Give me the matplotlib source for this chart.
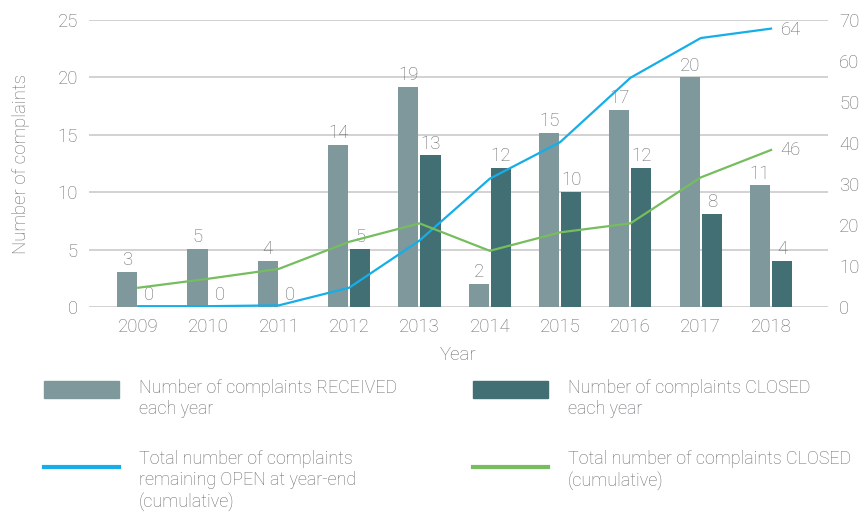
import numpy as np
import matplotlib
matplotlib.use("Agg")
import matplotlib.pyplot as plt
from matplotlib.patches import Rectangle
from matplotlib.lines import Line2D

years = ["2009", "2010", "2011", "2012", "2013", "2014", "2015", "2016", "2017", "2018"]
received = [3.05, 5.05, 4.0, 14.1, 19.2, 2.0, 15.2, 17.2, 20.0, 10.6]
received_labels = [3, 5, 4, 14, 19, 2, 15, 17, 20, 11]
closed = [0, 0, 0, 5.05, 13.2, 12.1, 10.0, 12.1, 8.1, 4.0]
closed_labels = [0, 0, 0, 5, 13, 12, 10, 12, 8, 4]
open_cum = [0.2, 0.2, 0.4, 4.7, 16.2, 31.3, 40.2, 55.9, 65.6, 67.9]
closed_cum = [4.7, 6.9, 9.3, 15.9, 20.4, 13.7, 18.2, 20.4, 31.6, 38.3]
end_labels = [64, 46]

C_REC = "#7f989c"
C_CLO = "#426f74"
C_OPEN = "#15aee8"
C_CCUM = "#75bd5e"
C_TEXT = "#6a6b6e"
C_GRID = "#d2d2d2"

plt.rcParams["font.family"] = ["Roboto", "DejaVu Sans"]
plt.rcParams["font.weight"] = "light"
plt.rcParams["axes.labelweight"] = "light"
FS = 13.4
FS_LEG = 12.9

W, H = 861, 512
fig = plt.figure(figsize=(W / 100, H / 100), dpi=100)
ax = fig.add_axes([89 / W, 1 - 307 / H, (828 - 89) / W, (307 - 20) / H])
ax2 = ax.twinx()

x = np.arange(len(years))
bw = 0.285
off = 0.157

b1 = ax.bar(x - off, received, bw, color=C_REC, zorder=2)
b2 = ax.bar(x + off, closed, bw, color=C_CLO, zorder=2)

for rect, lab in zip(b1, received_labels):
    ax.annotate(str(lab), (rect.get_x() + rect.get_width() / 2, rect.get_height()),
                xytext=(0, 2), textcoords="offset points", ha="center", va="bottom",
                fontsize=FS, color=C_TEXT)
for rect, lab in zip(b2, closed_labels):
    ax.annotate(str(lab), (rect.get_x() + rect.get_width() / 2, rect.get_height()),
                xytext=(0, 2), textcoords="offset points", ha="center", va="bottom",
                fontsize=FS, color=C_TEXT)

ax2.plot(x, open_cum, color=C_OPEN, lw=1.6, zorder=3)
ax2.plot(x, closed_cum, color=C_CCUM, lw=1.6, zorder=3)
ax2.annotate(str(end_labels[0]), (x[-1], open_cum[-1]), xytext=(7, -1),
             textcoords="offset points", ha="left", va="center", fontsize=FS, color=C_TEXT)
ax2.annotate(str(end_labels[1]), (x[-1], closed_cum[-1]), xytext=(7, 0),
             textcoords="offset points", ha="left", va="center", fontsize=FS, color=C_TEXT)

ax.set_xlim(-0.70, 9.81)
ax.set_ylim(0, 25)
ax2.set_ylim(0, 70)
ax.set_yticks(range(0, 26, 5))
ax2.set_yticks(range(0, 71, 10))
ax.set_xticks(x)
ax.set_xticklabels(years)

ax.grid(axis="y", color=C_GRID, lw=1.4, zorder=0)
ax.set_axisbelow(True)
for a in (ax, ax2):
    for s in a.spines.values():
        s.set_visible(False)
    a.tick_params(length=0, labelsize=FS, labelcolor=C_TEXT)
ax.tick_params(axis="y", pad=8)
ax.tick_params(axis="x", pad=8)
ax2.tick_params(axis="y", pad=8)

ax.set_xlabel("Year", fontsize=FS, color=C_TEXT, labelpad=7)
ax.set_ylabel("Number of complaints", fontsize=FS, color=C_TEXT, labelpad=20)

# legend, drawn by hand in pixel positions
def px(xp, yp):
    return xp / W, 1 - yp / H

def legend_text(xp, yp, s):
    fig.text(*px(xp, yp), s, fontsize=FS_LEG, color=C_TEXT, va="top", ha="left",
             linespacing=1.22)

fig.add_artist(Rectangle(px(44, 398), 75 / W, 17 / H, transform=fig.transFigure,
                         color=C_REC))
fig.add_artist(Rectangle(px(473, 398), 75 / W, 17 / H, transform=fig.transFigure,
                         color=C_CLO))
fig.add_artist(Line2D([44 / W, 119 / W], [1 - 467 / H] * 2, transform=fig.transFigure,
                      color=C_OPEN, lw=3))
fig.add_artist(Line2D([473 / W, 548 / W], [1 - 467 / H] * 2, transform=fig.transFigure,
                      color=C_CCUM, lw=3))
legend_text(139, 379, "Number of complaints RECEIVED\neach year")
legend_text(568, 379, "Number of complaints CLOSED\neach year")
legend_text(139, 450, "Total number of complaints\nremaining OPEN at year-end\n(cumulative)")
legend_text(568, 450, "Total number of complaints CLOSED\n(cumulative)")

fig.savefig("out.png", dpi=100)
